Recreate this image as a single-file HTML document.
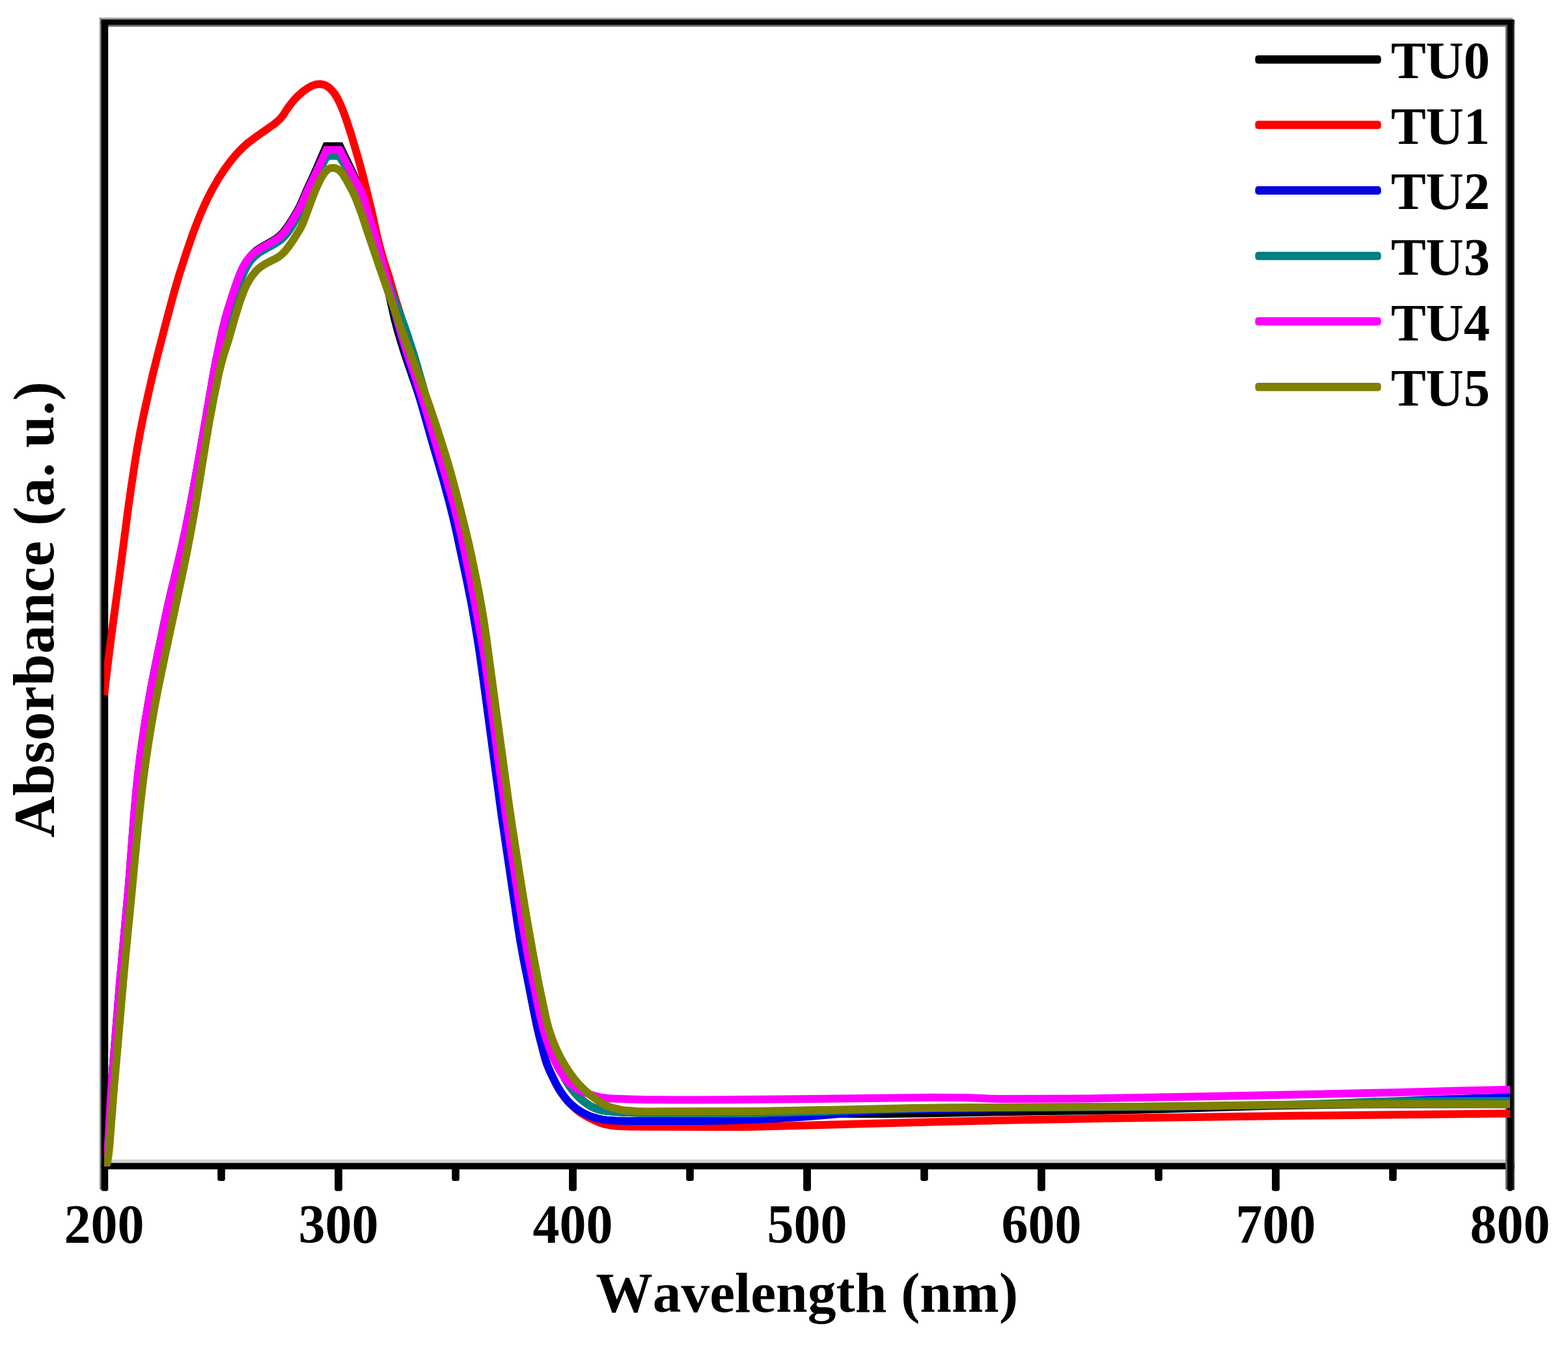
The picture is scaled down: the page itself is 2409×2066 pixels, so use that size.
<!DOCTYPE html>
<html lang="en">
<head>
<meta charset="utf-8">
<title>UV-Vis absorbance spectra TU0-TU5</title>
<style>
html,body{margin:0;padding:0;background:#fff;}
body{width:2409px;height:2066px;overflow:hidden;}
svg{display:block;}
text{font-family:"Liberation Serif","DejaVu Serif",serif;font-weight:bold;fill:#000;font-kerning:none;}
.tick{font-size:82px;text-anchor:middle;}
.leg{font-size:80.5px;text-anchor:start;}
.axl{font-size:87.5px;text-anchor:middle;}
.ayl{font-size:88px;text-anchor:middle;letter-spacing:0.65px;}
.curve{fill:none;stroke-width:12.0px;stroke-linejoin:miter;stroke-miterlimit:3;stroke-linecap:butt;}
</style>
</head>
<body>
<svg xmlns="http://www.w3.org/2000/svg" width="2409" height="2066" viewBox="0 0 2409 2066">
<rect x="0" y="0" width="2409" height="2066" fill="#ffffff"/>
<g id="frame">
<rect x="160" y="1781" width="2161" height="6" fill="#d2d2d2"/>
<rect x="153" y="1786.4" width="2173.6" height="9.8" fill="#000"/>
<rect x="153" y="27.2" width="2171" height="3.2" fill="#9a9a9a"/>
<rect x="153" y="30" width="2173.6" height="8.6" fill="#000"/>
<rect x="160" y="38.6" width="2160" height="2.4" fill="#6a6a6a"/>
<rect x="152.9" y="27.2" width="2.8" height="1800" rx="1" fill="#8c8c8c"/>
<rect x="155.4" y="30" width="10.8" height="1799.6" rx="3" fill="#000"/>
<rect x="2312.9" y="38" width="3.2" height="1789" fill="#6a6a6a"/>
<rect x="2315.8" y="30" width="8.4" height="1799.6" rx="3" fill="#000"/>
<rect x="2324" y="30" width="2.7" height="1798" rx="1" fill="#262626"/>
<rect x="514.1" y="1790" width="11.8" height="39.6" rx="3.5" fill="#000"/>
<rect x="874.1" y="1790" width="11.8" height="39.6" rx="3.5" fill="#000"/>
<rect x="1234.1" y="1790" width="11.8" height="39.6" rx="3.5" fill="#000"/>
<rect x="1594.1" y="1790" width="11.8" height="39.6" rx="3.5" fill="#000"/>
<rect x="1954.1" y="1790" width="11.8" height="39.6" rx="3.5" fill="#000"/>
<rect x="334.2" y="1790" width="11.6" height="24" rx="3.5" fill="#000"/>
<rect x="694.2" y="1790" width="11.6" height="24" rx="3.5" fill="#000"/>
<rect x="1054.2" y="1790" width="11.6" height="24" rx="3.5" fill="#000"/>
<rect x="1414.2" y="1790" width="11.6" height="24" rx="3.5" fill="#000"/>
<rect x="1774.2" y="1790" width="11.6" height="24" rx="3.5" fill="#000"/>
<rect x="2134.2" y="1790" width="11.6" height="24" rx="3.5" fill="#000"/>
</g>
<defs><clipPath id="plot"><rect x="160" y="30" width="2161" height="1761.6"/></clipPath></defs>
<g id="curves" clip-path="url(#plot)">
<path class="curve" stroke="#000000" d="M161.0 1795.0 L164.0 1779.3 L165.4 1767.4 L166.4 1753.4 L170.1 1685.5 L172.2 1655.6 L184.1 1510.0 L198.1 1356.7 L204.9 1266.9 L207.6 1235.0 L209.8 1211.1 L212.1 1189.3 L214.4 1169.4 L217.3 1147.6 L222.3 1114.0 L227.5 1082.4 L233.2 1050.9 L239.8 1017.5 L251.0 962.7 L256.4 937.3 L262.2 911.9 L273.9 863.3 L279.3 839.9 L285.2 812.6 L291.9 779.2 L297.4 749.7 L303.1 718.2 L315.2 649.3 L328.7 570.4 L332.5 550.8 L339.1 519.5 L342.6 503.9 L346.0 490.3 L348.6 480.7 L352.8 467.3 L358.9 448.2 L366.1 427.4 L369.8 418.2 L374.1 409.1 L377.1 403.9 L381.7 397.4 L386.9 391.3 L391.2 387.1 L394.2 384.6 L397.5 382.3 L404.4 378.1 L420.0 369.2 L425.0 365.9 L428.2 363.5 L431.2 360.9 L435.3 356.5 L439.0 351.8 L442.5 346.9 L446.9 340.3 L452.2 331.7 L457.1 323.1 L460.9 316.0 L463.4 310.5 L471.2 292.1 L483.0 266.7 L501.2 224.5 L522.3 224.5 L547.4 276.8 L555.8 292.8 L558.0 298.3 L559.7 304.0 L562.5 317.8 L564.0 323.6 L574.1 358.1 L582.8 391.0 L596.7 447.3 L606.3 490.3 L611.5 509.6 L616.6 526.9 L622.0 544.0 L642.1 602.7 L654.4 640.7 L665.4 677.1 L678.0 719.3 L686.3 748.1 L693.2 773.2 L698.8 794.5 L703.5 813.9 L708.5 835.3 L713.2 856.8 L718.0 880.3 L722.6 903.9 L726.5 925.5 L730.5 949.2 L735.8 982.8 L740.9 1018.4 L769.2 1228.6 L776.8 1282.0 L791.7 1380.9 L797.8 1420.5 L803.3 1452.0 L809.4 1481.4 L813.4 1498.9 L818.2 1518.3 L826.5 1549.2 L831.4 1566.5 L835.1 1577.9 L839.0 1589.3 L846.2 1608.0 L852.1 1622.8 L858.4 1637.5 L863.5 1648.4 L868.1 1657.3 L872.3 1664.1 L878.0 1672.3 L883.0 1678.5 L889.9 1685.8 L895.9 1691.1 L902.3 1695.9 L907.4 1699.1 L912.8 1701.8 L916.5 1703.2 L920.3 1704.4 L926.1 1705.8 L934.0 1706.9 L944.0 1707.8 L954.0 1708.4 L978.0 1709.3 L998.0 1709.6 L1158.0 1709.9 L1316.0 1710.9 L1364.0 1710.9 L1424.0 1710.2 L1546.0 1707.9 L1726.0 1705.3 L1776.0 1704.0 L1938.0 1698.9 L1972.0 1698.2 L2030.0 1697.2 L2080.0 1696.6 L2122.0 1696.3 L2320.0 1696.3"><title>TU0</title></path>
<path class="curve" stroke="#ff0000" d="M160.0 1068.0 L164.6 1028.3 L170.3 982.6 L184.4 877.5 L196.5 784.2 L201.5 748.6 L207.2 711.0 L211.1 687.3 L215.4 663.7 L219.3 644.1 L223.5 624.5 L234.1 577.7 L241.8 546.6 L256.8 488.5 L266.7 451.8 L273.9 426.8 L284.8 392.5 L295.8 360.3 L303.6 339.7 L311.3 321.3 L318.0 306.7 L326.3 290.7 L335.2 275.1 L343.9 261.7 L352.1 250.3 L357.1 244.0 L362.2 237.9 L367.6 232.0 L371.8 227.7 L376.2 223.6 L380.7 219.7 L393.5 210.0 L418.1 192.9 L424.5 187.9 L429.0 183.9 L431.7 181.1 L434.2 178.0 L443.1 164.6 L449.1 156.7 L453.1 152.2 L457.3 147.9 L464.7 141.2 L469.5 137.6 L472.9 135.4 L478.1 132.4 L481.8 130.8 L485.6 129.7 L489.5 129.3 L493.4 129.3 L497.3 130.0 L499.1 130.6 L502.6 132.5 L505.9 134.9 L508.8 137.6 L511.5 140.6 L514.0 143.8 L518.2 150.5 L522.6 159.5 L528.0 172.5 L533.3 187.6 L539.5 206.6 L550.8 245.0 L558.1 272.0 L571.0 324.5 L580.0 365.5 L585.6 386.9 L589.5 400.3 L597.5 425.0 L607.0 457.7 L622.7 507.3 L632.3 539.9 L643.0 578.5 L666.4 667.5 L673.4 692.5 L695.6 769.4 L700.9 788.7 L705.3 806.1 L709.0 821.7 L713.2 841.2 L728.5 915.7 L735.5 953.1 L741.3 988.6 L747.8 1034.1 L761.2 1135.3 L775.8 1242.4 L798.1 1417.0 L801.8 1444.7 L805.8 1472.5 L810.0 1498.1 L814.2 1521.8 L819.8 1551.2 L825.0 1576.7 L828.8 1592.3 L837.3 1625.2 L839.7 1632.8 L842.6 1640.3 L846.7 1649.4 L853.8 1663.8 L857.6 1670.9 L861.8 1677.6 L866.4 1684.2 L871.4 1690.5 L876.8 1696.3 L882.7 1701.8 L887.3 1705.7 L892.1 1709.2 L897.1 1712.5 L902.3 1715.5 L909.5 1719.2 L916.7 1722.6 L922.3 1724.9 L928.0 1726.6 L937.8 1728.6 L941.8 1729.2 L947.8 1729.7 L967.7 1730.4 L999.8 1730.7 L1083.8 1731.0 L1135.8 1731.0 L1159.8 1730.8 L1187.8 1730.1 L1445.8 1722.9 L1529.8 1721.1 L1707.8 1717.7 L1997.9 1713.8 L2320.0 1710.5"><title>TU1</title></path>
<path class="curve" stroke="#0000f0" d="M161.0 1795.0 L164.1 1779.3 L165.5 1767.4 L166.4 1755.4 L168.3 1721.4 L171.8 1669.5 L182.5 1543.8 L189.1 1472.0 L200.1 1358.5 L202.8 1326.6 L208.4 1254.7 L211.5 1218.8 L215.5 1181.0 L220.2 1145.3 L225.2 1111.6 L230.8 1078.1 L236.6 1046.6 L244.0 1009.3 L253.6 962.2 L259.1 936.8 L264.4 913.3 L276.1 864.7 L282.0 839.3 L287.9 811.9 L294.6 778.6 L300.1 749.1 L305.8 717.6 L317.5 650.5 L331.4 569.6 L335.6 548.0 L342.2 516.7 L345.8 501.0 L349.3 487.5 L352.7 476.0 L358.8 456.9 L366.4 434.1 L369.8 424.7 L373.7 415.5 L377.4 408.4 L380.6 403.3 L384.1 398.5 L388.1 394.0 L392.5 389.9 L395.7 387.5 L399.0 385.3 L421.7 372.5 L428.4 368.1 L433.0 364.3 L435.9 361.5 L438.5 358.5 L442.1 353.8 L446.6 347.1 L451.8 338.6 L457.8 328.1 L462.5 319.3 L465.0 313.8 L471.0 299.0 L475.0 289.8 L502.1 234.0 L521.4 234.0 L538.9 265.5 L547.1 281.5 L552.9 292.1 L554.6 295.7 L556.1 299.4 L557.8 305.1 L560.3 316.9 L561.8 322.7 L567.3 339.8 L570.2 349.4 L574.5 364.9 L586.3 409.3 L600.6 457.3 L605.2 474.7 L610.3 496.1 L613.4 507.7 L625.8 549.9 L636.7 584.3 L645.9 614.9 L662.2 672.7 L680.7 736.1 L690.1 770.9 L695.5 792.2 L700.5 813.6 L716.4 888.0 L723.9 925.3 L730.8 964.7 L735.9 996.3 L740.4 1028.0 L770.5 1252.1 L795.6 1422.4 L799.7 1448.0 L804.4 1473.6 L823.6 1569.8 L827.5 1587.4 L837.0 1624.2 L838.8 1629.9 L840.7 1635.6 L844.6 1644.8 L849.7 1655.7 L854.2 1664.7 L858.1 1671.6 L862.4 1678.4 L867.1 1684.9 L872.2 1691.1 L876.4 1695.3 L882.5 1700.6 L887.3 1704.2 L894.1 1708.4 L899.4 1711.3 L904.9 1713.8 L910.5 1715.8 L918.2 1718.0 L926.1 1719.7 L932.0 1720.5 L947.9 1721.5 L966.0 1722.0 L1080.1 1721.9 L1106.1 1721.4 L1142.1 1720.3 L1168.1 1719.3 L1196.1 1717.9 L1228.0 1716.0 L1252.0 1714.3 L1319.8 1708.2 L1335.7 1706.9 L1357.7 1705.7 L1387.7 1704.6 L1417.7 1703.9 L1455.7 1703.4 L1835.9 1699.4 L1912.0 1698.5 L1972.0 1697.4 L2008.0 1696.6 L2050.0 1695.3 L2144.0 1691.4 L2202.0 1689.1 L2260.0 1687.2 L2320.0 1685.5"><title>TU2</title></path>
<path class="curve" stroke="#008080" d="M161.0 1795.0 L164.1 1779.3 L165.6 1767.4 L166.6 1755.4 L168.6 1721.4 L172.3 1669.5 L183.3 1545.8 L189.4 1482.0 L202.0 1356.5 L205.1 1320.6 L211.1 1246.7 L214.1 1212.8 L218.0 1177.0 L222.8 1141.3 L227.6 1109.6 L232.8 1078.0 L238.2 1048.5 L244.9 1015.1 L260.7 938.6 L266.5 913.3 L277.8 866.5 L283.2 843.1 L289.1 815.7 L295.4 784.3 L301.4 752.9 L307.1 721.3 L319.2 652.3 L333.1 571.4 L337.3 549.8 L344.4 516.5 L348.0 500.8 L351.5 487.3 L354.8 475.8 L360.9 456.7 L368.6 433.9 L372.1 424.5 L376.1 415.3 L379.8 408.2 L383.0 403.2 L385.4 400.0 L389.4 395.5 L393.9 391.5 L397.0 389.0 L400.4 386.9 L421.3 375.0 L428.1 370.8 L432.9 367.1 L435.8 364.4 L438.5 361.6 L442.3 356.9 L446.8 350.3 L451.0 343.4 L456.0 334.7 L461.7 324.1 L466.0 315.1 L473.5 296.5 L479.2 283.8 L489.2 264.1 L502.6 239.5 L521.0 239.5 L525.2 246.3 L533.8 259.8 L537.9 266.7 L551.3 291.4 L553.1 295.0 L554.7 298.6 L555.9 302.3 L556.9 306.1 L559.9 321.9 L561.9 329.7 L567.8 346.7 L571.0 356.2 L575.2 369.5 L582.0 392.6 L587.4 409.7 L592.0 423.0 L603.6 454.9 L621.0 499.7 L626.8 516.7 L635.4 543.4 L641.1 562.5 L661.4 633.7 L681.7 702.8 L692.5 741.4 L699.7 768.4 L705.6 791.7 L710.8 813.1 L715.6 834.5 L721.7 863.9 L728.4 897.3 L734.0 926.8 L739.2 956.3 L743.7 983.9 L747.9 1011.6 L774.4 1207.9 L781.2 1255.4 L788.3 1302.9 L800.8 1384.0 L808.5 1431.4 L815.0 1466.8 L822.6 1504.0 L834.4 1556.7 L838.1 1572.3 L840.7 1582.0 L844.2 1593.4 L851.2 1614.3 L855.8 1627.5 L861.5 1642.5 L864.6 1649.9 L868.2 1657.0 L872.2 1664.0 L876.7 1670.6 L881.6 1676.9 L885.6 1681.4 L891.3 1687.1 L897.3 1692.3 L902.2 1695.8 L907.3 1699.0 L912.6 1701.7 L918.2 1703.8 L922.1 1704.9 L927.9 1706.1 L935.8 1707.1 L945.8 1708.1 L969.8 1709.3 L993.8 1710.0 L1125.9 1710.2 L1161.9 1710.0 L1201.9 1709.1 L1257.9 1707.5 L1351.9 1704.1 L1397.8 1702.8 L1431.9 1702.1 L1515.9 1701.3 L1743.9 1700.0 L1844.0 1699.0 L1928.0 1697.7 L1992.0 1696.5 L2050.0 1694.7 L2110.0 1692.3 L2133.9 1691.7 L2203.9 1691.2 L2320.0 1691.0"><title>TU3</title></path>
<path class="curve" stroke="#ff00ff" d="M161.0 1795.0 L164.0 1779.2 L165.4 1767.4 L166.4 1753.4 L170.0 1687.4 L172.1 1657.4 L184.1 1509.8 L198.2 1356.3 L205.0 1266.5 L207.4 1236.5 L209.6 1212.6 L211.9 1190.7 L214.5 1168.8 L217.4 1147.0 L222.4 1113.4 L227.6 1081.8 L233.3 1050.2 L239.9 1016.9 L256.2 938.4 L261.9 913.1 L273.6 864.4 L279.1 841.0 L285.0 813.6 L291.7 780.3 L297.3 750.8 L302.9 719.2 L328.9 569.3 L332.7 549.7 L339.8 516.4 L343.3 500.8 L346.8 487.2 L350.1 475.7 L355.6 458.5 L361.3 441.4 L366.6 426.3 L370.3 417.0 L374.7 408.0 L377.8 402.9 L381.3 398.0 L385.2 393.4 L389.5 389.2 L392.6 386.7 L397.5 383.3 L420.2 370.5 L426.9 366.1 L431.5 362.3 L434.3 359.5 L438.2 354.9 L441.7 350.0 L446.3 343.4 L451.6 335.0 L457.6 324.6 L461.4 317.5 L464.0 312.1 L472.7 291.9 L482.3 272.1 L501.7 230.3 L521.8 230.3 L537.6 260.4 L547.6 280.1 L553.2 290.7 L555.8 296.1 L557.3 299.8 L559.1 305.4 L563.9 322.9 L573.0 351.5 L577.5 366.8 L583.6 390.0 L595.6 434.5 L610.8 492.5 L617.8 517.6 L624.9 540.5 L640.4 586.0 L652.6 624.1 L688.0 743.0 L693.0 760.3 L697.7 777.6 L702.7 797.0 L707.6 818.4 L713.1 843.9 L721.6 885.0 L730.7 932.2 L741.3 991.2 L744.4 1011.0 L747.6 1032.8 L770.7 1205.3 L777.9 1256.8 L784.6 1302.4 L799.2 1397.3 L804.9 1432.8 L811.6 1470.3 L820.5 1515.4 L829.5 1558.5 L834.0 1578.0 L836.1 1585.7 L839.1 1595.3 L842.3 1604.7 L845.7 1614.1 L849.5 1623.4 L853.7 1632.5 L857.3 1639.7 L861.4 1646.6 L865.9 1653.2 L869.6 1657.9 L875.2 1663.7 L879.7 1667.6 L884.5 1671.1 L888.0 1673.2 L891.5 1675.1 L897.0 1677.5 L906.4 1681.0 L914.0 1683.4 L921.8 1685.3 L927.7 1686.3 L933.7 1686.9 L941.6 1687.5 L975.6 1688.8 L995.6 1689.2 L1033.7 1689.4 L1075.7 1689.5 L1113.7 1689.2 L1249.7 1687.9 L1433.8 1685.8 L1463.8 1685.9 L1481.8 1686.1 L1493.8 1686.5 L1517.8 1687.6 L1535.8 1687.9 L1615.8 1687.8 L1665.9 1687.4 L1849.9 1684.2 L2100.0 1679.1 L2150.0 1677.9 L2240.0 1675.6 L2320.0 1673.8"><title>TU4</title></path>
<path class="curve" stroke="#808000" d="M163.0 1795.0 L166.2 1777.3 L167.3 1769.4 L168.3 1759.4 L175.2 1669.6 L179.7 1619.8 L188.9 1512.1 L193.1 1466.3 L201.3 1382.7 L209.0 1301.0 L213.3 1257.2 L216.8 1225.4 L220.1 1197.6 L223.9 1169.8 L228.0 1142.1 L232.5 1114.5 L237.3 1086.9 L242.2 1061.3 L249.0 1028.0 L282.0 873.4 L287.2 847.9 L292.5 820.4 L297.5 792.9 L302.0 767.3 L315.0 686.3 L321.4 648.8 L328.4 611.4 L336.1 574.2 L339.4 560.6 L343.1 547.1 L352.2 518.5 L360.4 489.6 L366.2 470.5 L369.4 461.0 L373.5 449.7 L376.6 442.3 L380.1 435.1 L384.2 428.2 L387.6 423.3 L392.7 417.1 L397.0 412.8 L401.6 409.1 L406.6 405.9 L413.7 402.1 L424.5 396.7 L429.5 393.6 L432.6 391.1 L436.9 386.9 L439.5 383.8 L443.2 379.1 L449.0 370.9 L454.4 362.5 L459.7 354.0 L463.5 347.0 L465.9 341.5 L468.1 335.9 L479.2 305.9 L484.3 292.8 L489.2 281.8 L493.7 272.9 L498.0 266.1 L500.5 263.1 L501.9 261.7 L503.5 260.4 L505.1 259.4 L506.8 258.6 L508.7 258.1 L510.6 257.9 L512.5 257.9 L514.5 258.2 L516.3 258.8 L519.8 260.5 L522.9 262.9 L524.3 264.3 L526.7 267.5 L532.0 276.0 L541.5 293.6 L545.0 300.8 L548.7 310.1 L556.4 330.7 L564.4 355.5 L574.2 383.8 L583.1 410.4 L613.5 497.3 L621.1 517.9 L643.7 577.9 L659.1 621.2 L670.0 653.4 L679.2 682.0 L686.9 706.8 L693.5 729.9 L699.8 753.1 L706.8 780.2 L714.0 809.3 L720.1 834.6 L725.2 858.1 L730.5 883.5 L736.0 911.0 L739.9 932.7 L743.2 952.4 L746.7 976.1 L765.4 1114.9 L781.1 1229.9 L786.6 1267.5 L799.2 1348.6 L808.1 1403.9 L818.9 1465.0 L827.9 1512.2 L837.8 1559.1 L840.1 1568.9 L842.6 1578.5 L845.0 1586.2 L847.6 1593.8 L851.2 1603.1 L855.2 1612.3 L859.5 1621.3 L864.2 1630.1 L869.4 1638.7 L874.9 1647.0 L880.8 1655.2 L885.8 1661.4 L889.7 1665.9 L895.3 1671.6 L902.7 1678.4 L908.8 1683.6 L918.5 1690.6 L927.1 1696.0 L930.6 1697.8 L934.3 1699.4 L943.7 1702.4 L953.6 1704.6 L961.5 1705.7 L979.5 1706.9 L995.5 1707.4 L1125.6 1707.0 L1171.6 1706.7 L1261.6 1705.1 L1405.6 1702.1 L1453.6 1701.5 L1565.7 1700.6 L1751.8 1699.7 L1931.8 1697.5 L2085.9 1696.1 L2127.9 1695.8 L2185.9 1695.8 L2320.0 1696.2"><title>TU5</title></path>
</g>
<g id="legend">
<rect x="1928.4" y="84.9" width="193.4" height="12.8" rx="4.5" fill="#000000"/>
<text class="leg" x="2136.9" y="120.2">TU0</text>
<rect x="1928.4" y="185.5" width="193.4" height="12.8" rx="4.5" fill="#ff0000"/>
<text class="leg" x="2136.9" y="220.8">TU1</text>
<rect x="1928.4" y="286.1" width="193.4" height="12.8" rx="4.5" fill="#0404dc"/>
<text class="leg" x="2136.9" y="321.4">TU2</text>
<rect x="1928.4" y="386.7" width="193.4" height="12.8" rx="4.5" fill="#008080"/>
<text class="leg" x="2136.9" y="422.0">TU3</text>
<rect x="1928.4" y="487.3" width="193.4" height="12.8" rx="4.5" fill="#ff00ff"/>
<text class="leg" x="2136.9" y="522.6">TU4</text>
<rect x="1928.4" y="587.9" width="193.4" height="12.8" rx="4.5" fill="#808000"/>
<text class="leg" x="2136.9" y="623.2">TU5</text>
</g>
<g id="ticklabels">
<text class="tick" transform="translate(160,1908.8) scale(1,1.03)">200</text>
<text class="tick" transform="translate(520,1908.8) scale(1,1.03)">300</text>
<text class="tick" transform="translate(880,1908.8) scale(1,1.03)">400</text>
<text class="tick" transform="translate(1240,1908.8) scale(1,1.03)">500</text>
<text class="tick" transform="translate(1600,1908.8) scale(1,1.03)">600</text>
<text class="tick" transform="translate(1960,1908.8) scale(1,1.03)">700</text>
<text class="tick" transform="translate(2320,1908.8) scale(1,1.03)">800</text>
</g>
<text class="axl" x="1239.6" y="2014.7">Wavelength (nm)</text>
<text class="ayl" transform="translate(81.8,936) rotate(-90)">Absorbance (a. u.)</text>
</svg>
</body>
</html>
